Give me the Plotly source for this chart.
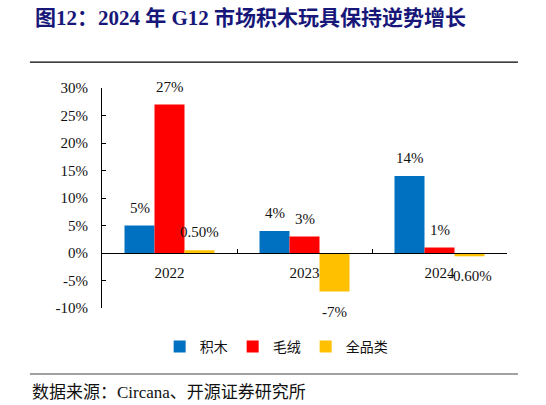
import plotly.graph_objects as go

years = ["2022", "2023", "2024"]
series_names = ["积木", "毛绒", "全品类"]
blocks = [5, 4, 14]
plush = [27, 3, 1]
all_toys = [0.5, -7, -0.6]
blocks_labels = ["5%", "4%", "14%"]
plush_labels = ["27%", "3%", "1%"]
all_labels = ["0.50%", "-7%", "-0.60%"]
y_ticks = [-10, -5, 0, 5, 10, 15, 20, 25, 30]
y_tick_text = ["-10%", "-5%", "0%", "5%", "10%", "15%", "20%", "25%", "30%"]

serif = "Times New Roman, Liberation Serif, Noto Sans CJK SC"
colors = ["#0070C0", "#FF0000", "#FFC000"]

series = [blocks, plush, all_toys]
labels = [blocks_labels, plush_labels, all_labels]

fig = go.Figure()
for name, vals, color in zip(series_names, series, colors):
    fig.add_trace(go.Bar(x=years, y=vals, name=name, marker_color=color,
                         marker_line_width=0))

# empty trace so the helper axis y2 exists (x axis is anchored to it, at the zero line)
fig.add_trace(go.Scatter(x=[], y=[], xaxis="x", yaxis="y2", showlegend=False,
                         hoverinfo="skip"))

# data labels above / below each bar of the group
# (x given as category index: "2022" strings would be read as serial numbers)
for i, (vals, texts) in enumerate(zip(series, labels)):
    for j, (v, t) in enumerate(zip(vals, texts)):
        fig.add_annotation(x=j, y=v, text=t, showarrow=False,
                           xshift=(i - 1) * 30, yshift=18 if v >= 0 else -20,
                           font=dict(family=serif, size=15, color="#111"))

fig.update_layout(
    width=546, height=405,
    margin=dict(l=102, r=39, t=88, b=97),
    paper_bgcolor="white", plot_bgcolor="rgba(0,0,0,0)",
    barmode="group", bargap=1 / 3, bargroupgap=0,
    legend=dict(orientation="h", x=0.43, xanchor="center", y=-0.177, yanchor="middle",
                font=dict(family=serif, size=14, color="#111"), itemwidth=30),
    xaxis=dict(type="category", anchor="y2",
               showline=True, linecolor="black", linewidth=1,
               ticks="inside", ticklen=4, tickson="boundaries", tickcolor="black",
               tickfont=dict(family=serif, size=15, color="#111"),
               ticklabelstandoff=6, showgrid=False),
    yaxis=dict(range=[-10, 30], tickmode="array", tickvals=y_ticks, ticktext=y_tick_text,
               showline=True, linecolor="black", linewidth=1,
               ticks="inside", ticklen=4, tickcolor="black",
               tickfont=dict(family=serif, size=15, color="#111"),
               ticklabelstandoff=10, showgrid=False, zeroline=False),
    yaxis2=dict(domain=[0.25, 1], range=[0, 1], anchor="x", showline=False,
                showticklabels=False, ticks="", showgrid=False, zeroline=False),
)

# title, rules and source note
fig.add_annotation(xref="paper", yref="paper", x=-0.170, y=1.318, xanchor="left",
                   yanchor="middle", showarrow=False,
                   text="<b>图12：2024 年 G12 市场积木玩具保持逆势增长</b>",
                   font=dict(family=serif, size=21, color="#17177A"))
fig.add_shape(type="line", xref="paper", yref="paper", x0=-0.178, x1=1.027,
              y0=1.118, y1=1.118, line=dict(color="black", width=1.2))
fig.add_shape(type="line", xref="paper", yref="paper", x0=-0.178, x1=1.027,
              y0=-0.30, y1=-0.30, line=dict(color="#444", width=1.2))
fig.add_annotation(xref="paper", yref="paper", x=-0.178, y=-0.382, xanchor="left",
                   yanchor="middle", showarrow=False,
                   text="数据来源：Circana、开源证券研究所",
                   font=dict(family=serif, size=17, color="#111"))

fig.write_html("out.html", config={"displayModeBar": False},
               post_script="document.body.style.margin='0';")
